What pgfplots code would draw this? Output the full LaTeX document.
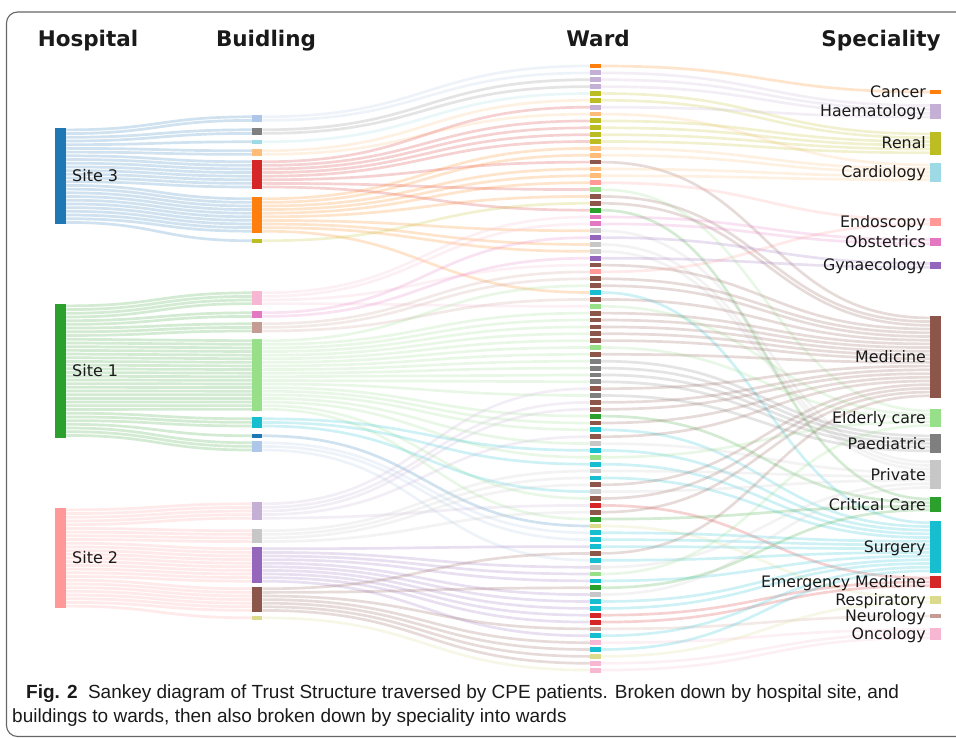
\documentclass[border=0pt]{standalone}
\usepackage{pgfplots}
\usepackage{pgfplotstable}
\pgfplotsset{compat=1.18}
\usepackage{fontspec}
\setmainfont{DejaVu Sans}
\newfontfamily\capfont{Liberation Sans}

% category20 palette
\definecolor{cA}{HTML}{1F77B4}\definecolor{cAl}{HTML}{AEC7E8}
\definecolor{cO}{HTML}{FF7F0E}\definecolor{cOl}{HTML}{FFBB78}
\definecolor{cG}{HTML}{2CA02C}\definecolor{cGl}{HTML}{98DF8A}
\definecolor{cR}{HTML}{D62728}\definecolor{cRl}{HTML}{FF9896}
\definecolor{cP}{HTML}{9467BD}\definecolor{cPl}{HTML}{C5B0D5}
\definecolor{cB}{HTML}{8C564B}\definecolor{cBl}{HTML}{C49C94}
\definecolor{cK}{HTML}{E377C2}\definecolor{cKl}{HTML}{F7B6D2}
\definecolor{cY}{HTML}{7F7F7F}\definecolor{cYl}{HTML}{C7C7C7}
\definecolor{cV}{HTML}{BCBD22}\definecolor{cVl}{HTML}{DBDB8D}
\definecolor{cC}{HTML}{17BECF}\definecolor{cCl}{HTML}{9EDAE5}
\definecolor{txt}{HTML}{1A1A1A}

\tikzset{flow/.style={draw=#1, draw opacity=0.21, line width=2.7pt}}
\pgfdeclareplotmark{wardbar}{\pgfpathrectangle{\pgfpoint{-5.5pt}{-2.4pt}}{\pgfpoint{11pt}{4.8pt}}\pgfusepath{fill}}

% hospital -> building links (one per patient)
\pgfplotstableread{
ya yb c
129.9 116.8 cA
133.6 120.4 cA
137.3 129.8 cA
141.0 133.4 cA
144.7 141.8 cA
148.4 150.8 cA
152.1 154.4 cA
155.8 161.8 cA
159.5 165.4 cA
163.2 169.0 cA
166.9 172.6 cA
170.6 176.2 cA
174.3 179.8 cA
178.0 183.4 cA
181.7 187.0 cA
185.4 198.8 cA
189.1 202.4 cA
192.8 206.0 cA
196.5 209.6 cA
200.2 213.2 cA
203.9 216.8 cA
207.6 220.4 cA
211.3 224.0 cA
215.0 227.6 cA
218.7 231.2 cA
222.4 240.8 cA
305.9 292.8 cG
309.6 296.4 cG
313.3 300.0 cG
317.0 303.6 cG
320.7 312.8 cG
324.4 316.4 cG
328.1 323.8 cG
331.8 327.4 cG
335.5 331.0 cG
339.2 340.8 cG
342.9 344.4 cG
346.6 348.0 cG
350.3 351.6 cG
354.0 355.2 cG
357.7 358.8 cG
361.4 362.4 cG
365.1 366.0 cG
368.8 369.6 cG
372.5 373.2 cG
376.2 376.8 cG
379.9 380.4 cG
383.6 384.0 cG
387.3 387.6 cG
391.0 391.2 cG
394.7 394.8 cG
398.4 398.4 cG
402.1 402.0 cG
405.8 405.6 cG
409.5 409.2 cG
413.2 418.8 cG
416.9 422.4 cG
420.6 426.0 cG
424.3 435.8 cG
428.0 442.8 cG
431.7 446.4 cG
435.4 450.0 cG
509.9 503.8 cRl
513.6 507.4 cRl
517.3 511.0 cRl
521.0 514.6 cRl
524.7 518.2 cRl
528.4 530.8 cRl
532.1 534.4 cRl
535.8 538.0 cRl
539.5 541.6 cRl
543.2 548.8 cRl
546.9 552.4 cRl
550.6 556.0 cRl
554.3 559.6 cRl
558.0 563.2 cRl
561.7 566.8 cRl
565.4 570.4 cRl
569.1 574.0 cRl
572.8 577.6 cRl
576.5 581.2 cRl
580.2 588.8 cRl
583.9 592.4 cRl
587.6 596.0 cRl
591.3 599.6 cRl
595.0 603.2 cRl
598.7 606.8 cRl
602.4 610.4 cRl
606.1 617.8 cRl
}\HB

% building -> ward links
\pgfplotstableread{
ya yb c
116.8 66.0 cAl
120.4 72.9 cAl
129.8 79.7 cY
133.4 86.6 cY
141.8 93.5 cCl
150.8 100.3 cOl
154.4 114.1 cOl
161.8 107.2 cR
165.4 120.9 cR
169.0 127.8 cR
172.6 134.7 cR
176.2 141.5 cR
179.8 162.1 cR
183.4 189.6 cR
187.0 210.2 cR
198.8 148.4 cO
202.4 155.2 cO
206.0 169.0 cO
209.6 175.8 cO
213.2 182.7 cO
216.8 196.4 cO
220.4 230.8 cO
224.0 244.5 cO
227.6 251.4 cO
231.2 292.5 cO
240.8 203.3 cV
292.8 217.0 cKl
296.4 223.9 cKl
300.0 265.1 cKl
303.6 306.3 cKl
312.8 237.6 cK
316.4 258.2 cK
323.8 271.9 cBl
327.4 278.8 cBl
331.0 299.4 cBl
340.8 285.7 cGl
344.4 313.1 cGl
348.0 320.0 cGl
351.6 326.9 cGl
355.2 333.7 cGl
358.8 340.6 cGl
362.4 347.5 cGl
366.0 354.3 cGl
369.6 361.2 cGl
373.2 368.1 cGl
376.8 374.9 cGl
380.4 381.8 cGl
384.0 395.5 cGl
387.6 416.1 cGl
391.2 423.0 cGl
394.8 429.8 cGl
398.4 443.6 cGl
402.0 457.3 cGl
405.6 498.5 cGl
409.2 519.1 cGl
418.8 450.4 cC
422.4 464.2 cC
426.0 491.6 cC
435.8 526.0 cA
442.8 532.8 cAl
446.4 539.7 cAl
450.0 560.3 cAl
503.8 388.7 cPl
507.4 402.4 cPl
511.0 409.3 cPl
514.6 436.7 cPl
518.2 505.4 cPl
530.8 471.0 cYl
534.4 477.9 cYl
538.0 484.8 cYl
541.6 512.2 cYl
548.8 546.6 cP
552.4 567.2 cP
556.0 574.0 cP
559.6 580.9 cP
563.2 594.6 cP
566.8 601.5 cP
570.4 608.4 cP
574.0 615.2 cP
577.6 622.1 cP
581.2 635.8 cP
588.8 553.4 cB
592.4 587.8 cB
596.0 628.9 cB
599.6 642.7 cB
603.2 649.5 cB
606.8 656.4 cB
610.4 663.3 cB
617.8 670.1 cVl
}\BW

% ward -> speciality links (ward y, slot at speciality, ward colour)
\pgfplotstableread{
ya yb c
66.0 92.0 cO
72.9 105.6 cPl
79.7 109.4 cPl
86.6 113.2 cPl
93.5 133.9 cV
100.3 137.7 cV
107.2 117.0 cPl
114.1 164.9 cOl
120.9 141.5 cV
127.8 145.2 cV
134.7 149.0 cV
141.5 152.8 cV
148.4 168.6 cOl
155.2 172.4 cOl
162.1 317.9 cB
169.0 176.1 cOl
175.8 179.8 cOl
182.7 220.0 cRl
189.6 410.8 cGl
196.4 321.6 cB
203.3 325.3 cB
210.2 499.1 cG
217.0 239.7 cK
223.9 243.7 cK
230.8 461.8 cYl
237.6 263.5 cP
244.5 465.5 cYl
251.4 469.2 cYl
258.2 267.2 cP
265.1 329.0 cB
271.9 224.0 cRl
278.8 332.7 cB
285.7 336.5 cB
292.5 522.8 cC
299.4 340.2 cB
306.3 414.5 cGl
313.1 343.9 cB
320.0 347.6 cB
326.9 351.3 cB
333.7 355.0 cB
340.6 358.7 cB
347.5 418.2 cGl
354.3 362.4 cB
361.2 435.9 cY
368.1 439.6 cY
374.9 443.4 cY
381.8 447.1 cY
388.7 366.1 cB
395.5 450.8 cY
402.4 369.8 cB
409.3 373.6 cB
416.1 502.7 cG
423.0 377.3 cB
429.8 526.5 cC
436.7 381.0 cB
443.6 472.8 cYl
450.4 530.2 cC
457.3 421.8 cGl
464.2 533.9 cC
471.0 476.5 cYl
477.9 537.6 cC
484.8 384.7 cB
491.6 480.1 cYl
498.5 388.4 cB
505.4 578.0 cR
512.2 392.1 cB
519.1 506.3 cG
526.0 598.0 cVl
532.8 541.3 cC
539.7 545.0 cC
546.6 548.7 cC
553.4 395.8 cB
560.3 552.4 cC
567.2 483.8 cYl
574.0 425.5 cGl
580.9 556.1 cC
587.8 509.9 cG
594.6 487.5 cYl
601.5 559.8 cC
608.4 563.5 cC
615.2 581.9 cR
622.1 585.8 cR
628.9 616.0 cBl
635.8 567.2 cC
642.7 629.7 cKl
649.5 570.9 cC
656.4 602.0 cVl
663.3 633.7 cKl
670.1 637.7 cKl
}\WS

% hospital, building and speciality nodes
\pgfplotstableread{
x y0 y1 c
60.5 128 224 cA
60.5 304 438 cG
60.5 508 608 cRl
257.2 115 122.2 cAl
257.2 128 135.2 cY
257.2 140 143.6 cCl
257.2 149 156.2 cOl
257.2 160 188.8 cR
257.2 197 233.0 cO
257.2 239 242.6 cV
257.2 291 305.4 cKl
257.2 311 318.2 cK
257.2 322 332.8 cBl
257.2 339 411.0 cGl
257.2 417 427.8 cC
257.2 434 437.6 cA
257.2 441 451.8 cAl
257.2 502 520.0 cPl
257.2 529 543.4 cYl
257.2 547 583.0 cP
257.2 587 612.2 cB
257.2 616 619.6 cVl
935.5 90.4 93.8 cO
935.5 103.7 119.0 cPl
935.5 132.0 154.7 cV
935.5 163.0 181.7 cCl
935.5 218.0 226.0 cRl
935.5 237.7 245.7 cK
935.5 261.7 269.0 cP
935.5 316.0 397.7 cB
935.5 409.0 427.3 cGl
935.5 434.0 452.7 cY
935.5 460.0 489.3 cYl
935.5 497.3 511.7 cG
935.5 521.0 572.7 cC
935.5 576.0 587.7 cR
935.5 596.0 604.0 cVl
935.5 614.0 618.0 cBl
935.5 627.7 639.7 cKl
}\NODES

\newcommand\drawflows[3]{%
  \pgfplotstablegetrowsof{#1}\pgfmathtruncatemacro\N{\pgfplotsretval-1}%
  \pgfmathsetmacro\xm{(#2+#3)/2}%
  \pgfplotsforeachungrouped \i in {0,...,\N}{%
    \pgfplotstablegetelem{\i}{ya}\of#1\let\fa\pgfplotsretval
    \pgfplotstablegetelem{\i}{yb}\of#1\let\fb\pgfplotsretval
    \pgfplotstablegetelem{\i}{c}\of#1\let\fc\pgfplotsretval
    \edef\temp{\noexpand\draw[flow=\fc] (axis cs:#2,\fa) .. controls (axis cs:\xm,\fa) and (axis cs:\xm,\fb) .. (axis cs:#3,\fb);}\temp
  }}

\begin{document}
\begin{tikzpicture}
\begin{axis}[
    scale only axis, width=956pt, height=738pt,
    xmin=0, xmax=956, ymin=0, ymax=738, y dir=reverse,
    axis lines=none, clip=false,
]
% links
\drawflows{\HB}{65.7}{252}
\drawflows{\BW}{262.4}{590}
\drawflows{\WS}{601}{930}

% nodes
\pgfplotstablegetrowsof{\NODES}\pgfmathtruncatemacro\N{\pgfplotsretval-1}
\pgfplotsforeachungrouped \i in {0,...,\N}{%
  \pgfplotstablegetelem{\i}{x}\of\NODES\let\nx\pgfplotsretval
  \pgfplotstablegetelem{\i}{y0}\of\NODES\let\na\pgfplotsretval
  \pgfplotstablegetelem{\i}{y1}\of\NODES\let\nb\pgfplotsretval
  \pgfplotstablegetelem{\i}{c}\of\NODES\let\nc\pgfplotsretval
  \edef\temp{\noexpand\addplot[forget plot, draw=\nc, line width=10.5pt] coordinates {(\nx,\na) (\nx,\nb)};}\temp
}
\pgfplotstablegetrowsof{\WS}\pgfmathtruncatemacro\N{\pgfplotsretval-1}
\pgfplotsforeachungrouped \i in {0,...,\N}{%
  \pgfplotstablegetelem{\i}{ya}\of\WS\let\wy\pgfplotsretval
  \pgfplotstablegetelem{\i}{c}\of\WS\let\wc\pgfplotsretval
  \edef\temp{\noexpand\addplot[forget plot, only marks, mark=wardbar, mark options={fill=\wc, draw=none}] coordinates {(595.5,\wy)};}\temp
}

% column titles
\begin{scope}[every node/.style={anchor=base, text=txt, font=\bfseries\fontsize{21.5}{24}\selectfont}]
\node at (axis cs:88,47) {Hospital};
\node at (axis cs:266,47) {Buidling};
\node at (axis cs:598,47) {Ward};
\node at (axis cs:881,47) {Speciality};
\end{scope}

% site labels
\begin{scope}[every node/.style={anchor=base west, inner sep=0pt, text=txt, font=\fontsize{16}{18}\selectfont}]
\node at (axis cs:72,181.8) {Site 3};
\node at (axis cs:72,376.8) {Site 1};
\node at (axis cs:72,563.8) {Site 2};
\end{scope}

% speciality labels
\begin{scope}[every node/.style={anchor=base east, inner sep=0pt, text=txt, font=\fontsize{15.8}{18}\selectfont}]
\node at (axis cs:926,97.6) {Cancer};
\node at (axis cs:926,117.0) {Haematology};
\node at (axis cs:926,149.0) {Renal};
\node at (axis cs:926,178.0) {Cardiology};
\node at (axis cs:926,227.6) {Endoscopy};
\node at (axis cs:926,247.3) {Obstetrics};
\node at (axis cs:926,271.0) {Gynaecology};
\node at (axis cs:926,362.5) {Medicine};
\node at (axis cs:926,423.8) {Elderly care};
\node at (axis cs:926,449.0) {Paediatric};
\node at (axis cs:926,480.3) {Private};
\node at (axis cs:926,510.1) {Critical Care};
\node at (axis cs:926,552.5) {Surgery};
\node at (axis cs:926,587.5) {Emergency Medicine};
\node at (axis cs:926,605.6) {Respiratory};
\node at (axis cs:926,621.6) {Neurology};
\node at (axis cs:926,639.3) {Oncology};
\end{scope}

% frame and caption
\draw[color=black!60, line width=1.1pt, rounded corners=11pt]
  (axis cs:980,12) -- (axis cs:6.5,12) -- (axis cs:6.5,736.5) -- (axis cs:980,736.5);
\node[anchor=base west, inner sep=0pt, text=txt, font=\capfont\fontsize{19}{24}\selectfont]
  at (axis cs:26,698) {\textbf{Fig. 2}\hspace{0.55em}Sankey diagram of Trust Structure traversed by CPE patients. Broken down by hospital site, and};
\node[anchor=base west, inner sep=0pt, text=txt, font=\capfont\fontsize{19}{24}\selectfont]
  at (axis cs:12,722) {buildings to wards, then also broken down by speciality into wards};
\end{axis}
\pgfresetboundingbox
\useasboundingbox (current axis.south west) rectangle (current axis.north east);
\end{tikzpicture}
\end{document}
